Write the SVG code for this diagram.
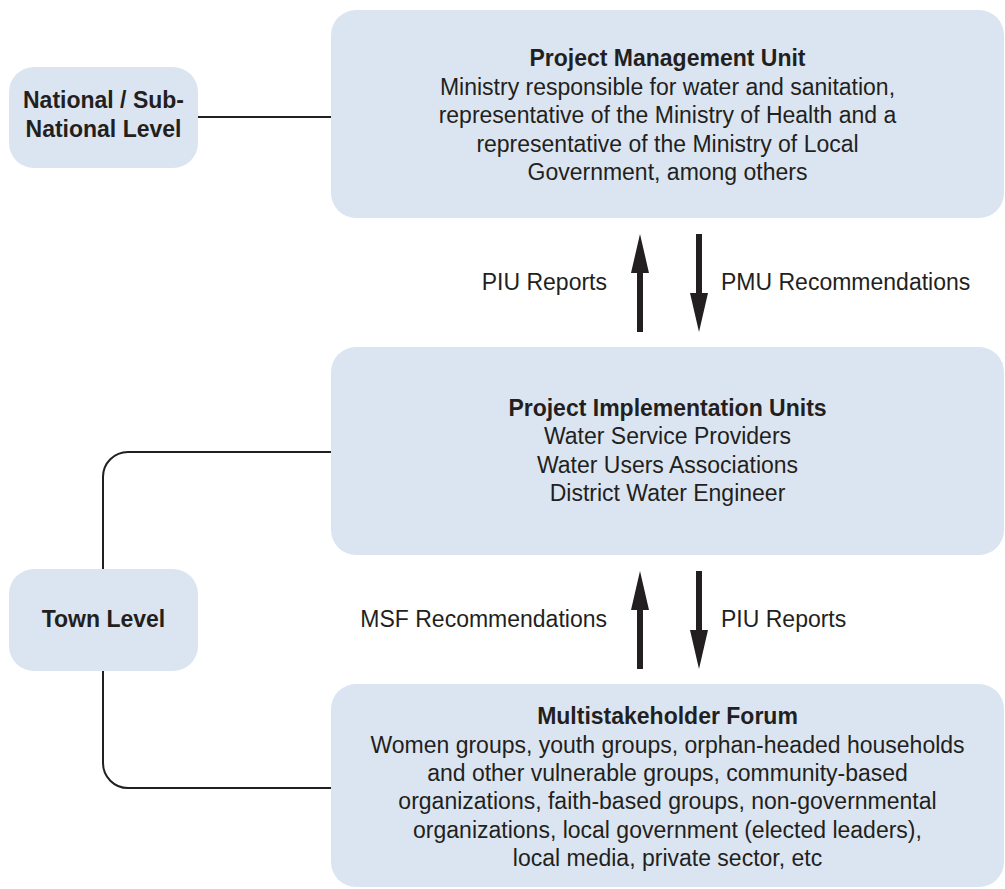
<svg xmlns="http://www.w3.org/2000/svg" width="1005" height="889" viewBox="0 0 1005 889">
<style>
.box{fill:#dbe5f1}
.t{font-family:"Liberation Sans",Arial,sans-serif;font-size:23px;fill:#231f20}
.b{font-weight:bold}
.c{text-anchor:middle}
.line{fill:none;stroke:#231f20;stroke-width:2}
.arr{fill:#231f20}
</style>
<rect width="1005" height="889" fill="#ffffff"/>
<g id="connectors">
<path class="line" d="M198,117 H331"/>
<path class="line" d="M331,452 H128 A25,25 0 0 0 103,477 V569"/>
<path class="line" d="M103,671 V763 A25,25 0 0 0 128,788 H331"/>
<polygon class="arr" points="637,332 637,273 631,273 640,234 649,273 643,273 643,332"/>
<polygon class="arr" points="696,234 702,234 702,293 708,293 699,332 690,293 696,293"/>
<polygon class="arr" points="637,669 637,610 631,610 640,571 649,610 643,610 643,669"/>
<polygon class="arr" points="696,571 702,571 702,630 708,630 699,669 690,630 696,630"/>
<text class="t" x="607" y="290" text-anchor="end">PIU Reports</text>
<text class="t" x="721" y="290">PMU Recommendations</text>
<text class="t" x="607" y="627" text-anchor="end">MSF Recommendations</text>
<text class="t" x="721" y="627">PIU Reports</text>
</g>
<g id="national">
<rect class="box" x="9" y="67" width="189" height="101" rx="25"/>
<text class="t b c" x="103.5" y="108">National / Sub-</text>
<text class="t b c" x="103.5" y="137">National Level</text>
</g>
<g id="town">
<rect class="box" x="9" y="569" width="189" height="102" rx="25"/>
<text class="t b c" x="103.5" y="627">Town Level</text>
</g>
<g id="pmu">
<rect class="box" x="331" y="10" width="673" height="208" rx="25"/>
<text class="t b c" x="667.5" y="66">Project Management Unit</text>
<text class="t c" x="667.5" y="95">Ministry responsible for water and sanitation,</text>
<text class="t c" x="667.5" y="123">representative of the Ministry of Health and a</text>
<text class="t c" x="667.5" y="152">representative of the Ministry of Local</text>
<text class="t c" x="667.5" y="180">Government, among others</text>
</g>
<g id="piu">
<rect class="box" x="331" y="347" width="673" height="208" rx="25"/>
<text class="t b c" x="667.5" y="416">Project Implementation Units</text>
<text class="t c" x="667.5" y="444">Water Service Providers</text>
<text class="t c" x="667.5" y="473">Water Users Associations</text>
<text class="t c" x="667.5" y="501">District Water Engineer</text>
</g>
<g id="msf">
<rect class="box" x="331" y="684" width="673" height="203" rx="25"/>
<text class="t b c" x="667.5" y="724">Multistakeholder Forum</text>
<text class="t c" x="667.5" y="753">Women groups, youth groups, orphan-headed households</text>
<text class="t c" x="667.5" y="781">and other vulnerable groups, community-based</text>
<text class="t c" x="667.5" y="809">organizations, faith-based groups, non-governmental</text>
<text class="t c" x="667.5" y="838">organizations, local government (elected leaders),</text>
<text class="t c" x="667.5" y="866">local media, private sector, etc</text>
</g>
</svg>
